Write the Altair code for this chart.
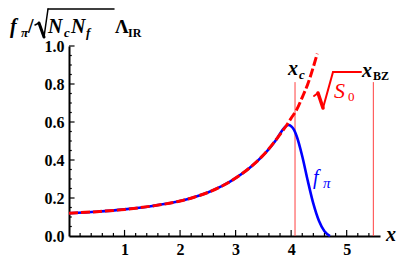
import altair as alt
import pandas as pd

# ---- data ----
red_x = [0.0, 0.5, 1.0, 1.5, 2.0, 2.25, 2.5, 2.75, 3.0, 3.25, 3.5, 3.75, 3.9, 4.0, 4.1, 4.2, 4.3, 4.4, 4.47]
red_y = [0.12, 0.128, 0.14, 0.158, 0.184, 0.204, 0.229, 0.262, 0.305, 0.358, 0.426, 0.515, 0.575, 0.62, 0.665, 0.73, 0.80, 0.89, 0.96]

blue_x = [0.0, 0.5, 1.0, 1.5, 2.0, 2.25, 2.5, 2.75, 3.0, 3.25, 3.5, 3.75, 3.85, 3.9, 3.95, 4.0, 4.05, 4.1, 4.2, 4.3, 4.4, 4.5, 4.6, 4.7]
blue_y = [0.12, 0.128, 0.14, 0.158, 0.184, 0.204, 0.229, 0.262, 0.305, 0.358, 0.426, 0.515, 0.56, 0.576, 0.584, 0.578, 0.56, 0.525, 0.42, 0.29, 0.17, 0.08, 0.025, 0.0]

vline_x = [4.07, 5.48]
vline_top = 0.81

x_major = [1, 2, 3, 4, 5]
x_minor = [round(0.2 * i, 2) for i in range(1, 28) if i % 5 != 0]
y_labels = [0.0, 0.2, 0.4, 0.6, 0.8, 1.0]
y_major = [0.2, 0.4, 0.6, 0.8, 1.0]
y_minor = [round(0.05 * i, 2) for i in range(1, 20) if i % 4 != 0]

XMAX = 5.6
OX, OY = 69, 46  # plot origin on the page
W, H = 311, 190

df_red = pd.DataFrame({"x": red_x, "y": red_y})
df_blue = pd.DataFrame({"x": blue_x, "y": blue_y})
df_v = pd.DataFrame({"x": vline_x, "y0": [0] * len(vline_x), "y1": [vline_top] * len(vline_x)})

xs = alt.Scale(domain=[0, XMAX], nice=False, zero=False)
ys = alt.Scale(domain=[0, 1.0], nice=False)

FONT = "Liberation Serif"

xaxis = alt.Axis(values=x_major, ticks=False, grid=False, title=None, labelFont=FONT,
                 labelFontWeight="bold", labelFontSize=16, labelColor="black", labelOverlap=False,
                 domainColor="black", domainWidth=2, labelPadding=5)
yaxis = alt.Axis(values=y_labels, format=".1f", ticks=False, grid=False, labelOverlap=False,
                 title=None, labelFont=FONT, labelFontWeight="bold", labelFontSize=16,
                 labelColor="black", domainColor="black", domainWidth=2, labelPadding=5)


def X(f):
    return alt.X(f, scale=xs, axis=xaxis)


def Y(f):
    return alt.Y(f, scale=ys, axis=yaxis)


blue = alt.Chart(df_blue).mark_line(color="#0000ff", strokeWidth=2.6, interpolate="monotone").encode(
    x=X("x:Q"), y=Y("y:Q"))
red = alt.Chart(df_red).mark_line(color="#ff0000", strokeWidth=3, strokeDash=[9, 3],
                                  interpolate="monotone").encode(x=X("x:Q"), y=Y("y:Q"))
vlines = alt.Chart(df_v).mark_rule(color="#ff4040", strokeWidth=1).encode(
    x=X("x:Q"), y=Y("y0:Q"), y2="y1:Q")


def xticks(vals, h):
    d = pd.DataFrame({"x": vals, "y0": [0] * len(vals), "y1": [h] * len(vals)})
    return alt.Chart(d).mark_rule(color="black", strokeWidth=1.2).encode(
        x=X("x:Q"), y=Y("y0:Q"), y2="y1:Q")


def yticks(vals, w):
    d = pd.DataFrame({"y": vals, "x0": [0] * len(vals), "x1": [w] * len(vals)})
    return alt.Chart(d).mark_rule(color="black", strokeWidth=1.2).encode(
        y=Y("y:Q"), x=X("x0:Q"), x2="x1:Q")


one = alt.Data(values=[{"a": 1}])


def txt(s, px, py, size, color="black", style="italic", weight="bold"):
    return alt.Chart(one).mark_text(text=s, align="left", baseline="alphabetic", fontSize=size,
                                    fontStyle=style, fontWeight=weight, font=FONT, color=color).encode(
        x=alt.value(px - OX), y=alt.value(py - OY))


def seg(x1, y1, x2, y2, color="black", w=1.5):
    return alt.Chart(one).mark_rule(color=color, strokeWidth=w, strokeCap="round").encode(
        x=alt.value(x1 - OX), y=alt.value(y1 - OY), x2=alt.value(x2 - OX), y2=alt.value(y2 - OY))


# title offset (page coordinates)
TX, TY = 9, 7

texts = [
    # y title  f_pi / sqrt(Nc Nf) Lambda_IR
    txt("f", 1 + TX, 26 + TY, 20), txt("π", 12 + TX, 30 + TY, 13),
    txt("/", 19 + TX, 26 + TY, 20, style="normal"),
    seg(26 + TX, 18 + TY, 30 + TX, 16 + TY, w=1.5),
    seg(30 + TX, 16 + TY, 35 + TX, 30 + TY, w=3),
    seg(35 + TX, 30 + TY, 39 + TX, 2 + TY, w=1.5),
    seg(39 + TX, 2 + TY, 105 + TX, 2 + TY, w=1.5),
    txt("N", 39 + TX, 26 + TY, 20), txt("c", 55 + TX, 30 + TY, 13),
    txt("N", 62 + TX, 26 + TY, 20), txt("f", 77 + TX, 30 + TY, 13),
    txt("Λ", 106 + TX, 26 + TY, 19, style="normal"), txt("IR", 119 + TX, 30 + TY, 12, style="normal"),
    # x_c, x_BZ
    txt("x", 288, 75, 20), txt("c", 299, 79, 13),
    txt("x", 362, 77, 20), txt("BZ", 373, 80, 12, style="normal"),
    # sqrt(S0)
    seg(314, 96, 318, 93, color="#ff0000", w=2),
    seg(318, 93, 323, 108, color="#ff0000", w=3.5),
    seg(323, 108, 333, 72, color="#ff0000", w=2),
    seg(333, 72, 361, 72, color="#ff0000", w=2),
    txt("S", 334, 98, 22, color="#ff0000", weight="normal"),
    txt("0", 348, 101, 13, color="#ff0000", style="normal", weight="normal"),
    # f_pi label
    txt("f", 313, 184, 20, color="#0000ff", weight="normal"), txt("π", 323, 188, 15, color="#0000ff", weight="normal"),
    # axis label
    txt("x", 386, 241, 20),
]

layers = [vlines, blue, red,
          xticks(x_major, 0.032), xticks(x_minor, 0.016),
          yticks(y_major, 0.1), yticks(y_minor, 0.05)] + texts

chart = alt.layer(*layers).properties(
    width=W, height=H,
    padding={"left": OX - 8, "top": OY - 8, "right": 391 - (OX - 8) - W, "bottom": 248 - (OY - 8) - H},
    autosize=alt.AutoSizeParams(type="none"),
).configure_view(stroke=None).configure_axis(labelOverlap=False)

chart.save("out.html", embed_options={"renderer": "svg", "actions": False})
